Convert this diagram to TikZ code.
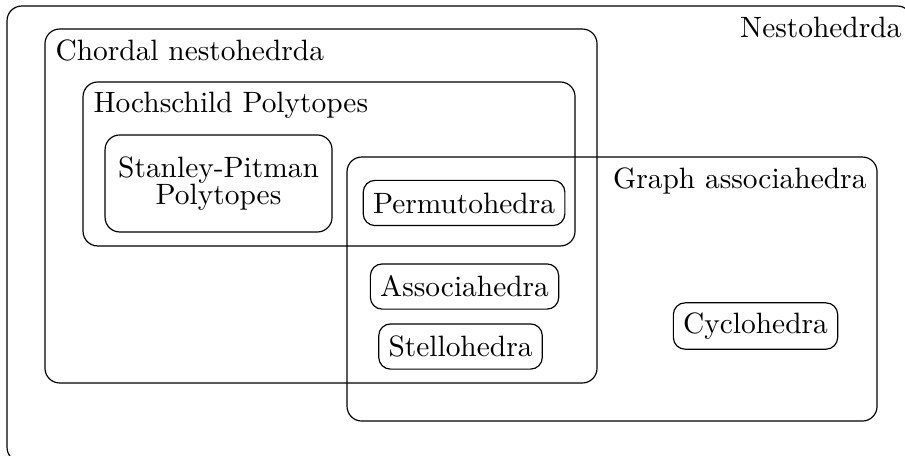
\documentclass[tikz,border=0pt]{standalone}
\usepackage{tikz}
\usetikzlibrary{shapes,positioning}
\tikzstyle{regionbox}=[rectangle, rounded corners=5pt, draw, inner sep=0pt, outer sep=0pt]
\tikzstyle{classbox}=[rectangle, rounded corners, draw, align=center, minimum height=0.54cm]
\tikzstyle{regionlabel}=[inner sep=3.4pt]

\begin{document}
\begin{tikzpicture}[every node/.style = {font=\normalsize}]

\clip (0,0) rectangle (10.812,-5.436);

\node[regionbox, minimum width=10.812cm, minimum height=5.448cm] (nesto) at (5.49,-2.796) {};
\node[regionbox, minimum width=6.595cm, minimum height=4.229cm] (chordal) at (3.835,-2.461) {};
\node[regionbox, minimum width=5.878cm, minimum height=1.959cm] (hoch) at (3.931,-1.959) {};
\node[regionbox, minimum width=6.332cm, minimum height=3.154cm] (graph) at (7.312,-3.453) {};
\node[classbox, rounded corners=5pt, minimum width=2.712cm, minimum height=1.159cm] (stanley) at (2.611,-2.192) {Stanley-Pitman\\[-3pt]Polytopes};

\node[regionlabel, anchor=north east] (nestolabel) at (nesto.north east) {Nestohedrda};
\node[regionlabel, anchor=north west] (chordallabel) at (chordal.north west) {Chordal nestohedrda};
\node[regionlabel, anchor=north west] (hochlabel) at (hoch.north west) {Hochschild Polytopes};
\node[regionlabel, anchor=north east] (graphlabel) at (graph.north east) {Graph associahedra};

\node[classbox] (permuto) at (5.544,-2.425) {Permutohedra};
\node[classbox] (associa) at (5.550,-3.423) {Associahedra};
\node[classbox] (stello) at (5.502,-4.140) {Stellohedra};
\node[classbox] (cyclo) at (9.026,-3.895) {Cyclohedra};

\end{tikzpicture}
\end{document}
